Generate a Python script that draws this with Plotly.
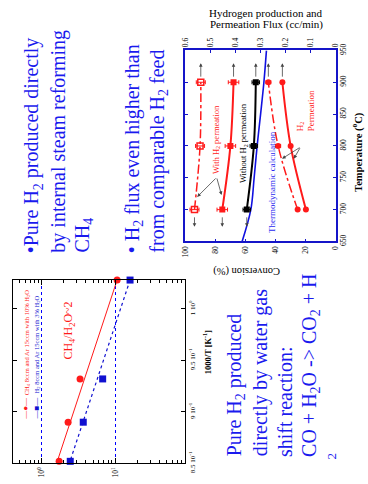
import plotly.graph_objects as go

W, H = 368, 484
SERIF = "Liberation Serif"
BLUE_TXT = "#1a1aee"
FRAME_BLUE = "#1515c8"
RED = "#ff1a1a"

# ---------------- Left chart: 1000/T vs rate (log) ----------------
inv_T = [1.028, 0.932, 0.890, 0.852]
rate_ch4 = [10.6, 3.33, 2.29, 1.73]
rate_h2 = [15.9, 6.75, 3.68, 2.45]
fit_inv_T = [1.028, 0.850]
fit_ch4 = [10.6, 1.60]
fit_h2 = [15.9, 2.38]
log_tickvals = [1, 10]
log_ticktext = ["10<sup>0</sup>", "10<sup>1</sup>"]
invT_tickvals = [0.85, 0.90, 0.95, 1.00]
invT_ticktext = ["8.5 10<sup>-1</sup>", "9 10<sup>-1</sup>", "9.5 10<sup>-1</sup>", "1 10<sup>0</sup>"]
log_minor = [0.5, 0.6, 0.7, 0.8, 0.9, 2, 3, 4, 5, 6, 7, 8, 9, 20, 30, 40, 50, 60, 70, 80, 90]

# ---------------- Right chart: conversion / flux vs temperature ----------------
temp_pts = [700, 800, 900]
conv_with_a = [94.0, 90.3, 89.8]
conv_with_b = [75.5, 70.1, 68.0]
conv_without = [59.2, 54.5, 53.2]
err_with_a = [3.0, 3.0, 3.0]
err_with_b = [3.5, 3.5, 3.5]
err_without = [2.5, 2.5, 2.5]
flux_perm_a = [0.152, 0.230, 0.269]
flux_perm_b = [0.119, 0.180, 0.213]
err_flux = [0.0, 0.010, 0.010]
temp_thermo = [650, 700, 750, 800, 850, 900, 950]
conv_thermo = [62.3, 56.5, 54.3, 52.3, 50.0, 47.8, 46.1]
conv_ticks = [0, 20, 40, 60, 80, 100]
temp_ticks = [650, 700, 750, 800, 850, 900, 950]

fig = go.Figure()

# left chart traces
fig.add_trace(go.Scatter(x=fit_ch4, y=fit_inv_T, mode="lines", line=dict(color=RED, width=1),
                         xaxis="x", yaxis="y", hoverinfo="skip"))
fig.add_trace(go.Scatter(x=fit_h2, y=fit_inv_T, mode="lines", line=dict(color="#1010d0", width=1.2, dash="dot"),
                         xaxis="x", yaxis="y", hoverinfo="skip"))
fig.add_trace(go.Scatter(x=rate_ch4, y=inv_T, mode="markers", marker=dict(symbol="circle", size=7, color=RED),
                         xaxis="x", yaxis="y", cliponaxis=False))
fig.add_trace(go.Scatter(x=rate_h2, y=inv_T, mode="markers", marker=dict(symbol="square", size=7, color="#1010d0"),
                         xaxis="x", yaxis="y", cliponaxis=False))

# right chart traces
fig.add_trace(go.Scatter(x=conv_thermo, y=temp_thermo, mode="lines", line=dict(color="#1010e0", width=1.6, shape="spline"),
                         xaxis="x2", yaxis="y2"))
fig.add_trace(go.Scatter(x=conv_without, y=temp_pts, mode="lines+markers",
                         line=dict(color="black", width=2, shape="spline"),
                         marker=dict(symbol="square", size=6, color="black"),
                         error_x=dict(type="data", array=err_without, color="black", thickness=1, width=2),
                         xaxis="x2", yaxis="y2"))
fig.add_trace(go.Scatter(x=conv_with_a, y=temp_pts, mode="lines+markers",
                         line=dict(color=RED, width=1.5, dash="dashdot", shape="spline"),
                         marker=dict(symbol="square-open", size=6, color=RED, line=dict(width=1.5)),
                         error_x=dict(type="data", array=err_with_a, color=RED, thickness=1, width=2),
                         xaxis="x2", yaxis="y2"))
fig.add_trace(go.Scatter(x=conv_with_b, y=temp_pts, mode="lines+markers",
                         line=dict(color=RED, width=2, shape="spline"),
                         marker=dict(symbol="square", size=6, color=RED),
                         error_x=dict(type="data", array=err_with_b, color=RED, thickness=1, width=2),
                         xaxis="x2", yaxis="y2"))
fig.add_trace(go.Scatter(x=flux_perm_a, y=temp_pts, mode="lines+markers",
                         line=dict(color=RED, width=1.5, dash="dashdot", shape="spline"),
                         marker=dict(symbol="circle", size=6, color=RED),
                         error_x=dict(type="data", array=err_flux, color=RED, thickness=1, width=2),
                         xaxis="x3", yaxis="y2"))
fig.add_trace(go.Scatter(x=flux_perm_b, y=temp_pts, mode="lines+markers",
                         line=dict(color=RED, width=2, shape="spline"),
                         marker=dict(symbol="circle", size=6, color=RED),
                         xaxis="x3", yaxis="y2"))

ann = []


def txt(x, y, s, size, color, angle=-90, xa="center", ya="middle", align="center"):
    ann.append(dict(x=x / W, y=1 - y / H, xref="paper", yref="paper", text=s, showarrow=False,
                    textangle=angle, xanchor=xa, yanchor=ya, align=align,
                    font=dict(size=size, color=color, family=SERIF)))


def arrow(xv, yv, ax, ay, xref="x2"):
    ann.append(dict(x=xv, y=yv, xref=xref, yref="y2", ax=ax, ay=ay, text="", showarrow=True,
                    arrowhead=2, arrowsize=0.9, arrowwidth=0.8, arrowcolor="#444444"))


# bullet text, left column
txt(29, 257, "\u2022Pure H<sub>2</sub> produced directly", 20, BLUE_TXT, ya="bottom")
txt(54.5, 257, "by internal steam reforming", 20, BLUE_TXT, ya="bottom")
txt(80, 257, "CH<sub>4</sub>", 20, BLUE_TXT, ya="bottom")
txt(132, 257, "\u2022 H<sub>2</sub> flux even higher than", 20, BLUE_TXT, ya="bottom")
txt(157, 257, "from comparable H<sub>2</sub> feed", 20, BLUE_TXT, ya="bottom")

# bottom-right text
txt(236, 468, "Pure H<sub>2</sub> produced", 20, BLUE_TXT, ya="bottom")
txt(261.5, 468, "directly by water gas", 20, BLUE_TXT, ya="bottom")
txt(287, 468, "shift reaction:", 20, BLUE_TXT, ya="bottom")
txt(312.5, 468, "CO + H<sub>2</sub>O -&gt; CO<sub>2</sub> + H", 20, BLUE_TXT, ya="bottom")
txt(335, 465, "2", 13, BLUE_TXT)

# left chart labels
txt(66, 335, "CH<sub>4</sub>/H<sub>2</sub>O~2", 12, RED)
txt(21, 416, "\u2014\u25cf\u2014", 8, RED)
txt(32, 416, "\u2014\u25a0\u2014", 8, "#1010d0")
txt(22, 348, "CH<sub>4</sub> 8ccm and Ar 15ccm with 10% H<sub>2</sub>O", 6.5, RED)
txt(32.5, 350, "H<sub>2</sub> 8ccm and Ar 15ccm with 3% H<sub>2</sub>O", 6.5, "#1010d0")
txt(208, 358, "<b>1000/T [K<sup>-1</sup>]</b>", 8.5, "black")

# right chart labels
txt(268, 6, "Hydrogen production and", 11, "black", angle=0)
txt(268, 18, "Permeation Flux (cc/min)", 11, "black", angle=0)
txt(361, 150, "<b>Temperature (<sup>o</sup>C)</b>", 10.5, "black")
txt(247, 273, "Conversion (%)", 10.5, "black", angle=180)
txt(216, 137, "With H<sub>2</sub> permeation", 8.5, RED)
txt(244, 141, "Without H<sub>2</sub> permeation", 8.5, "black")
txt(273, 181, "Thermodynamic calculation", 9, "#2a2af0")
txt(308, 131, "H<sub>2</sub><br>Permeation", 9, RED, ya="bottom", align="left")

# arrows toward axes
for v in [conv_with_a[-1], conv_with_b[-1], conv_without[-1]]:
    arrow(v, 930, 0, 15)
for v in [flux_perm_a[-1], flux_perm_b[-1]]:
    arrow(v, 930, 0, 15, xref="x3")
for v in [conv_with_a[0], conv_with_b[0], conv_without[0]]:
    arrow(v, 673, 0, -11)
# label pointer arrows
arrow(92.2, 720, 20, -20)
arrow(76.0, 723, -5, -18)
arrow(35.7, 780, 19, -12)
arrow(27.9, 780, 7, -12)

tick_font = dict(size=7.5, family=SERIF, color="black")

fig.update_layout(
    width=W, height=H, margin=dict(l=0, r=0, t=0, b=0),
    paper_bgcolor="white", plot_bgcolor="white", showlegend=False,
    font=dict(family=SERIF, color="black"),
    annotations=ann,
    xaxis=dict(domain=[8 / W, 185 / W], type="log", range=[-0.391, 1.954], anchor="y",
               tickmode="array", tickvals=log_tickvals, ticktext=log_ticktext, tickangle=-90,
               ticks="inside", ticklen=5, tickcolor="black", showline=True, linecolor="black", linewidth=1,
               mirror="ticks", showgrid=True, gridcolor="#0000ff", griddash="dot", gridwidth=1,
               zeroline=False, tickfont=tick_font,
               minor=dict(tickvals=log_minor, ticks="inside", ticklen=3, tickcolor="black", showgrid=False)),
    yaxis=dict(domain=[1 - 473 / H, 1 - 283 / H], range=[0.85, 1.028], anchor="x",
               tickmode="array", tickvals=invT_tickvals, ticktext=invT_ticktext, side="right", tickangle=-90,
               ticks="inside", ticklen=4, tickcolor="black", mirror="ticks", showline=True, linecolor="black",
               linewidth=1, showgrid=False, zeroline=False, tickfont=dict(size=7, family=SERIF, color="black")),
    xaxis2=dict(domain=[185 / W, 339 / W], range=[100, 0], anchor="y2", tickvals=conv_ticks, tickangle=-90,
                ticks="inside", ticklen=3, tickcolor=FRAME_BLUE, showline=True, linecolor=FRAME_BLUE, linewidth=1.5,
                showgrid=False, zeroline=False, tickfont=tick_font),
    xaxis3=dict(overlaying="x2", side="top", range=[0.6, 0], anchor="y2", dtick=0.1, tickangle=-90,
                ticks="inside", ticklen=3, tickcolor=FRAME_BLUE, showline=True, linecolor=FRAME_BLUE, linewidth=1.5,
                showgrid=False, zeroline=False, tickfont=tick_font),
    yaxis2=dict(domain=[1 - 243 / H, 1 - 45 / H], range=[650, 950], anchor="x2", tickvals=temp_ticks, side="right",
                tickangle=-90, ticks="inside", ticklen=3, tickcolor=FRAME_BLUE, mirror="ticks", showline=True,
                linecolor=FRAME_BLUE, linewidth=1.5, showgrid=False, zeroline=False, tickfont=tick_font),
)

fig.write_html("out.html", config=dict(displayModeBar=False),
               post_script="document.body.style.margin='0px';document.body.style.overflow='hidden';")
